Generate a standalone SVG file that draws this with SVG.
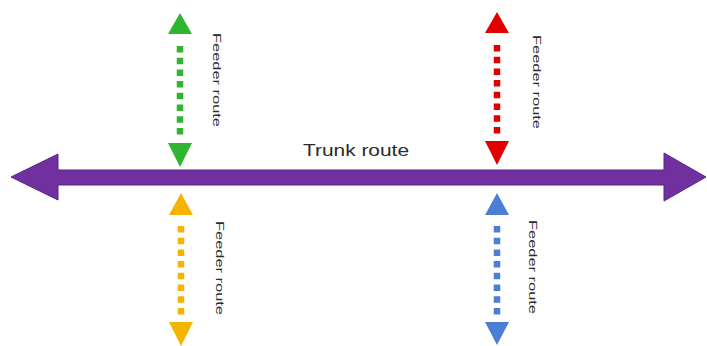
<svg xmlns="http://www.w3.org/2000/svg" width="707" height="346" viewBox="0 0 707 346">
  <style>
    .label { font-family: "Liberation Sans", Arial, sans-serif; fill: #2b2b2b; }
    .feeder-text { font-size: 11.5px; }
    .trunk-text { font-size: 17px; }
    .dash { stroke-width: 6.5; stroke-dasharray: 6.5 5.2; fill: none; }
  </style>
  <rect width="707" height="346" fill="#ffffff"/>

  <g id="connectors">
    <!-- Trunk route: double-headed purple arrow -->
    <g id="trunk">
      <polygon fill="#7030A0" stroke="#5b2585" stroke-width="1"
        points="11,177 58,154 58,170 664,170 664,153 706,177 664,201 664,185 58,185 58,200"/>
    </g>

    <!-- Feeder route (green, upper left) -->
    <g id="feeder-green" fill="#2fb52f">
      <polygon points="180,13 192,34 168,34"/>
      <line class="dash" x1="180" y1="46" x2="180" y2="135" stroke="#2fb52f"/>
      <polygon points="168,143 192,143 180,167"/>
    </g>

    <!-- Feeder route (red, upper right) -->
    <g id="feeder-red" fill="#e00000">
      <polygon points="497,12 509,33 485,33"/>
      <line class="dash" x1="497" y1="45" x2="497" y2="134" stroke="#e00000"/>
      <polygon points="485,141 509,141 497,165"/>
    </g>

    <!-- Feeder route (yellow, lower left) -->
    <g id="feeder-yellow" fill="#f5b400">
      <polygon points="181,193 193,215 169,215"/>
      <line class="dash" x1="181" y1="226" x2="181" y2="315" stroke="#f5b400"/>
      <polygon points="169,322 193,322 181,346"/>
    </g>

    <!-- Feeder route (blue, lower right) -->
    <g id="feeder-blue" fill="#4a7fd4">
      <polygon points="497,193 509,215 485,215"/>
      <line class="dash" x1="497" y1="226" x2="497" y2="315" stroke="#4a7fd4"/>
      <polygon points="485,322 509,322 497,345"/>
    </g>
  </g>

  <g id="labels">
    <text class="label trunk-text" x="303" y="156" textLength="106" lengthAdjust="spacingAndGlyphs">Trunk route</text>
    <text class="label feeder-text" transform="translate(213,33) rotate(90)" textLength="94" lengthAdjust="spacingAndGlyphs">Feeder route</text>
    <text class="label feeder-text" transform="translate(533,35) rotate(90)" textLength="94" lengthAdjust="spacingAndGlyphs">Feeder route</text>
    <text class="label feeder-text" transform="translate(216,221) rotate(90)" textLength="94" lengthAdjust="spacingAndGlyphs">Feeder route</text>
    <text class="label feeder-text" transform="translate(529,220) rotate(90)" textLength="94" lengthAdjust="spacingAndGlyphs">Feeder route</text>
  </g>
</svg>
